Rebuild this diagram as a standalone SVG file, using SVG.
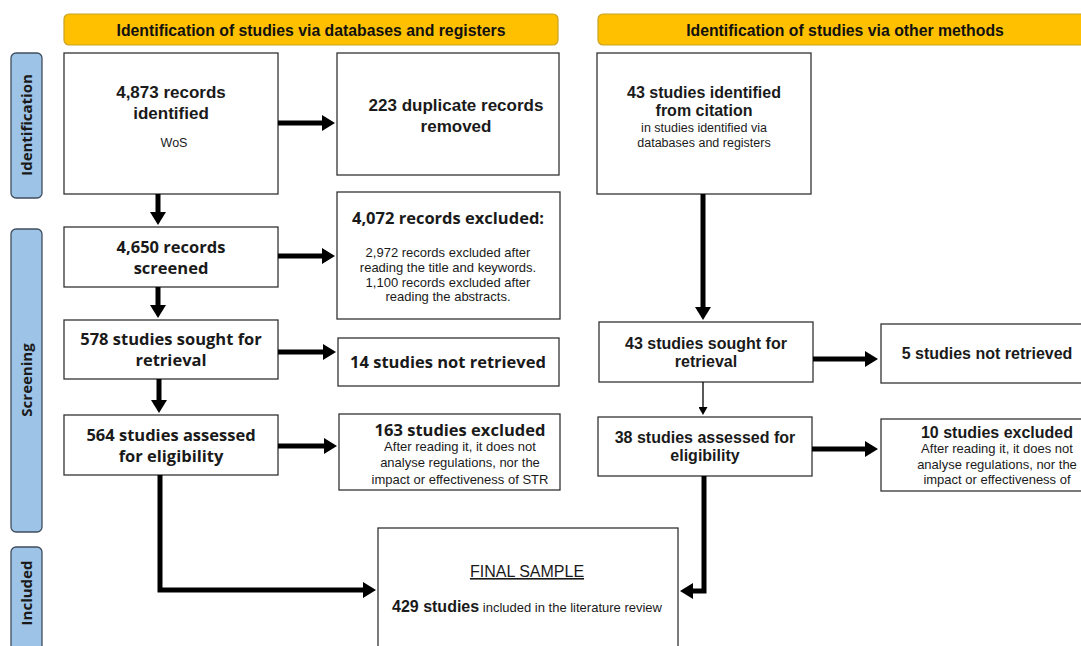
<svg xmlns="http://www.w3.org/2000/svg" width="1081" height="646" viewBox="0 0 1081 646">
<style>
.hdr{fill:#FFC000;stroke:#C9A227;stroke-width:1.2}
.side{fill:#9DC3E6;stroke:#3F4E5E;stroke-width:1.3}
.box{fill:#fff;stroke:#333;stroke-width:1.3}
.ht{font-family:"Liberation Sans",Arial,sans-serif;font-weight:bold;font-size:15.8px;fill:#111;text-anchor:middle}
.st{font-family:"Open Sans","DejaVu Sans",sans-serif;font-weight:bold;font-size:15px;fill:#1a1a1a;text-anchor:middle}
.a{font-family:"Liberation Sans",Arial,sans-serif;font-weight:bold;font-size:16px;fill:#1a1a1a;text-anchor:middle}
.a17{font-family:"Liberation Sans",Arial,sans-serif;font-weight:bold;font-size:17px;fill:#1a1a1a;text-anchor:middle}
.o{font-family:"Open Sans","DejaVu Sans",sans-serif;font-weight:bold;font-size:16.5px;fill:#1a1a1a;text-anchor:middle}
.s{font-family:"Liberation Sans",Arial,sans-serif;font-size:13px;fill:#1a1a1a;text-anchor:middle}
.s12{font-family:"Liberation Sans",Arial,sans-serif;font-size:12.5px;fill:#1a1a1a;text-anchor:middle}
.thick{fill:none;stroke:#000;stroke-width:5}
.thin{fill:none;stroke:#000;stroke-width:1.3}
</style>
<defs>
<marker id="ah" markerUnits="userSpaceOnUse" markerWidth="14" markerHeight="16" refX="1" refY="8" orient="auto">
<path d="M0,0 L13,8 L0,16 z" fill="#000"/>
</marker>
<marker id="ahs" markerUnits="userSpaceOnUse" markerWidth="9" markerHeight="9" refX="1" refY="4.5" orient="auto">
<path d="M0,0 L8,4.5 L0,9 z" fill="#000"/>
</marker>
</defs>

<g id="header-databases">
<rect class="hdr" x="64" y="14" width="494" height="31" rx="5"/>
<text class="ht" x="311" y="35.5">Identification of studies via databases and registers</text>
</g>
<g id="header-other">
<rect class="hdr" x="598" y="14" width="490" height="31" rx="5"/>
<text class="ht" x="845" y="35.5">Identification of studies via other methods</text>
</g>

<g id="side-identification">
<rect class="side" x="11" y="53" width="31" height="145" rx="5"/>
<text class="st" transform="translate(32,125) rotate(-90)">Identification</text>
</g>
<g id="side-screening">
<rect class="side" x="11" y="229" width="31" height="303" rx="5"/>
<text class="st" transform="translate(32,380) rotate(-90)">Screening</text>
</g>
<g id="side-included">
<rect class="side" x="11" y="547" width="31" height="106" rx="5"/>
<text class="st" transform="translate(32,593) rotate(-90)">Included</text>
</g>

<g id="n-identified">
<rect class="box" x="64" y="53" width="214" height="141"/>
<text class="a17" x="171" y="98">4,873 records</text>
<text class="a17" x="171" y="119">identified</text>
<text class="s12" x="174" y="147">WoS</text>
</g>
<g id="n-duplicates">
<rect class="box" x="337" y="53" width="222" height="122"/>
<text class="a17" x="456" y="111">223 duplicate records</text>
<text class="a17" x="456" y="132">removed</text>
</g>
<g id="n-excluded-records">
<rect class="box" x="337" y="192" width="223" height="127"/>
<text class="o" x="448" y="224">4,072 records excluded:</text>
<text class="s" x="448" y="257">2,972 records excluded after</text>
<text class="s" x="448" y="272">reading the title and keywords.</text>
<text class="s" x="448" y="287">1,100 records excluded after</text>
<text class="s" x="448" y="301">reading the abstracts.</text>
</g>
<g id="n-screened">
<rect class="box" x="64" y="227" width="214" height="60"/>
<text class="o" x="171" y="253">4,650 records</text>
<text class="o" x="171" y="274">screened</text>
</g>
<g id="n-sought">
<rect class="box" x="64" y="320" width="214" height="59"/>
<text class="o" x="171" y="345">578 studies sought for</text>
<text class="o" x="171" y="366">retrieval</text>
</g>
<g id="n-not-retrieved">
<rect class="box" x="338" y="338" width="221" height="48"/>
<text class="o" x="448" y="368">14 studies not retrieved</text>
</g>
<g id="n-assessed">
<rect class="box" x="64" y="415" width="214" height="60"/>
<text class="o" x="171" y="441">564 studies assessed</text>
<text class="o" x="171" y="462">for eligibility</text>
</g>
<g id="n-excluded-studies">
<rect class="box" x="339" y="414" width="221" height="76"/>
<text class="o" x="460" y="436">163 studies excluded</text>
<text class="s" x="460" y="451">After reading it, it does not</text>
<text class="s" x="460" y="467">analyse regulations, nor the</text>
<text class="s" x="460" y="484">impact or effectiveness of STR</text>
</g>

<g id="n-citation">
<rect class="box" x="597" y="53" width="214" height="141"/>
<text class="a" x="704" y="98">43 studies identified</text>
<text class="a" x="704" y="116">from citation</text>
<text class="s12" x="704" y="132">in studies identified via</text>
<text class="s12" x="704" y="147">databases and registers</text>
</g>
<g id="n-sought-other">
<rect class="box" x="599" y="322" width="214" height="60"/>
<text class="a" x="706" y="349">43 studies sought for</text>
<text class="a" x="706" y="367">retrieval</text>
</g>
<g id="n-not-retrieved-other">
<rect class="box" x="881" y="324" width="210" height="59"/>
<text class="a" x="987" y="359">5 studies not retrieved</text>
</g>
<g id="n-assessed-other">
<rect class="box" x="598" y="417" width="214" height="59"/>
<text class="a" x="705" y="443">38 studies assessed for</text>
<text class="a" x="705" y="461">eligibility</text>
</g>
<g id="n-excluded-other">
<rect class="box" x="881" y="419" width="210" height="72"/>
<text class="a" x="997" y="438">10 studies excluded</text>
<text class="s" x="997" y="453">After reading it, it does not</text>
<text class="s" x="997" y="469">analyse regulations, nor the</text>
<text class="s" x="997" y="484">impact or effectiveness of</text>
</g>

<g id="n-final">
<rect class="box" x="378" y="528" width="300" height="130"/>
<text x="527" y="577" font-family="Liberation Sans, Arial, sans-serif" font-size="16" fill="#1a1a1a" text-anchor="middle" text-decoration="underline">FINAL SAMPLE</text>
<text x="527" y="612" font-family="Liberation Sans, Arial, sans-serif" fill="#1a1a1a" text-anchor="middle"><tspan font-weight="bold" font-size="16">429 studies</tspan><tspan font-size="13"> included in the literature review</tspan></text>
</g>

<g id="connectors">
<path class="thick" d="M278,123 H323" marker-end="url(#ah)"/>
<path class="thick" d="M278,256 H323" marker-end="url(#ah)"/>
<path class="thick" d="M278,352 H324" marker-end="url(#ah)"/>
<path class="thick" d="M278,446 H325" marker-end="url(#ah)"/>
<path class="thick" d="M158,194 V213" marker-end="url(#ah)"/>
<path class="thick" d="M158,287 V306" marker-end="url(#ah)"/>
<path class="thick" d="M159,379 V401" marker-end="url(#ah)"/>
<path class="thick" d="M160,475 V590 H364" marker-end="url(#ah)"/>
<path class="thick" d="M703,194 V308" marker-end="url(#ah)"/>
<path class="thick" d="M813,359 H866" marker-end="url(#ah)"/>
<path class="thin" d="M703,382 V408" marker-end="url(#ahs)"/>
<path class="thick" d="M812,449 H866" marker-end="url(#ah)"/>
<path class="thick" d="M704,476 V591 H692" marker-end="url(#ah)"/>
</g>
</svg>
